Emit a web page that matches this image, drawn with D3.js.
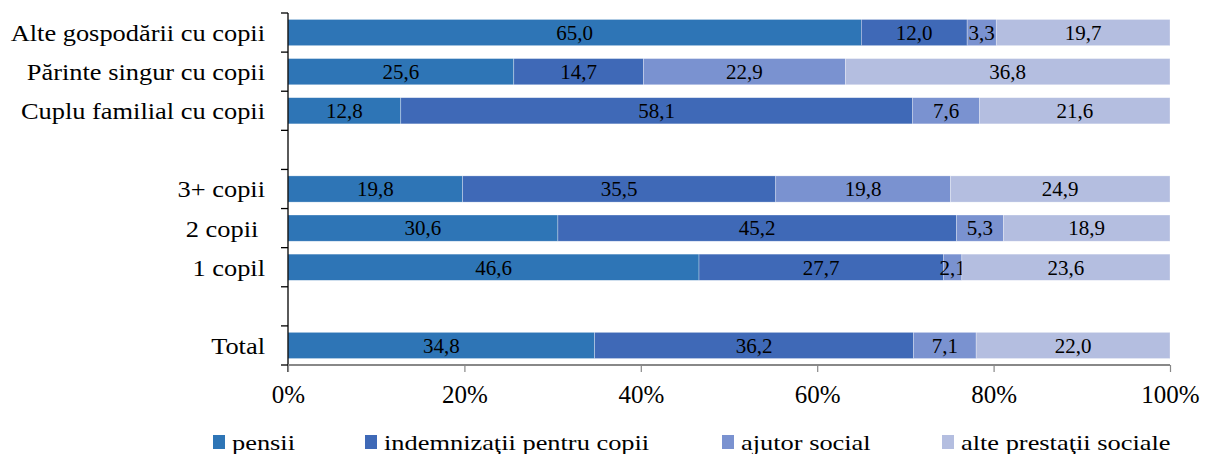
<!DOCTYPE html>
<html><head><meta charset="utf-8">
<script src="https://cdn.jsdelivr.net/npm/d3@7"></script>
<style>body{margin:0;background:#fff}svg{display:block}</style>
</head><body><svg id="c" width="1206" height="454"></svg>
<script>
const rows = ["Alte gospodării cu copii","Părinte singur cu copii","Cuplu familial cu copii","gap1","3+ copii","2 copii ","1 copil","gap2","Total"];
const seriesNames = ["pensii","indemnizaţii pentru copii","ajutor social","alte prestaţii sociale"];
const pensii =        [65.0, 25.6, 12.8, null, 19.8, 30.6, 46.6, null, 34.8];
const indemnizatii =  [12.0, 14.7, 58.1, null, 35.5, 45.2, 27.7, null, 36.2];
const ajutor =        [3.3, 22.9, 7.6, null, 19.8, 5.3, 2.1, null, 7.1];
const alte =          [19.7, 36.8, 21.6, null, 24.9, 18.9, 23.6, null, 22.0];
const xTicks = [0, 0.2, 0.4, 0.6, 0.8, 1.0];
const colors = ["#2E75B6","#3F69B7","#7A92D0","#B4BEE0"];

(function(){
const FF = "'Liberation Serif'";
const svg = d3.select("#c");
const pL = 288, pR = 1170, pT = 13, pB = 365;
const x = d3.scaleLinear().domain([0,1]).range([pL,pR]);
const y = d3.scaleBand().domain(rows).range([pT,pB]).paddingInner(0.33).paddingOuter(0.165);

const seriesData = [pensii, indemnizatii, ajutor, alte];
rows.forEach((r,i)=>{
  if (pensii[i] === null) return;
  const vals = seriesData.map(s=>s[i]);
  const total = d3.sum(vals);
  let acc = 0;
  vals.forEach((v,j)=>{
    const x0 = acc/total, x1 = (acc+v)/total;
    acc += v;
    svg.append("rect").attr("x", x(x0)).attr("y", y(r)).attr("width", x(x1)-x(x0)).attr("height", y.bandwidth())
      .attr("fill", colors[j]).attr("stroke","#ffffff").attr("stroke-opacity",0.5).attr("stroke-width",0.6);
    svg.append("text").attr("x",(x(x0)+x(x1))/2).attr("y", y(r)+y.bandwidth()/2).attr("dy","0.35em")
      .style("font-family",FF).attr("text-anchor","middle").attr("font-size",21).text(v.toFixed(1).replace(".",","));
  });
});

const yAxisG = svg.append("g");
yAxisG.append("line").attr("x1",pL).attr("x2",pL).attr("y1",pT).attr("y2",pB+7).attr("stroke","#000").attr("stroke-width",1.3);
d3.range(rows.length+1).forEach(k=>{
  const yy = pT + k*(pB-pT)/rows.length;
  yAxisG.append("line").attr("x1",pL-7).attr("x2",pL).attr("y1",yy).attr("y2",yy).attr("stroke","#000").attr("stroke-width",1.3);
});
rows.forEach(r=>{
  if (r.startsWith("gap")) return;
  svg.append("text").attr("transform",`translate(265,${y(r)+y.bandwidth()/2}) scale(1.1,1)`).attr("dy","0.35em").attr("text-anchor","end")
    .style("font-family",FF).attr("font-size",24).style("white-space","pre").text(r);
});

const xAxis = d3.axisBottom(x).tickValues(xTicks).tickFormat(d3.format(".0%")).tickSize(7).tickPadding(13);
const xg = svg.append("g").attr("transform",`translate(0,${pB})`).call(xAxis);
xg.select(".domain").attr("stroke","#888").attr("stroke-width",2).attr("d",`M${pL},0H${pR}`);
xg.selectAll(".tick line").attr("stroke","#888").attr("stroke-width",1.2);
xg.selectAll(".tick text").style("font-family",FF).attr("font-size",25).attr("fill","#000");

const legX = [213, 365, 722, 942];
seriesNames.forEach((n,j)=>{
  svg.append("rect").attr("x",legX[j]).attr("y",435).attr("width",12).attr("height",14).attr("fill",colors[j]);
  svg.append("text").attr("transform",`translate(${legX[j]+19},450) scale(1.2,1)`).style("font-family",FF).attr("font-size",22).text(n);
});
})();
</script></body></html>
